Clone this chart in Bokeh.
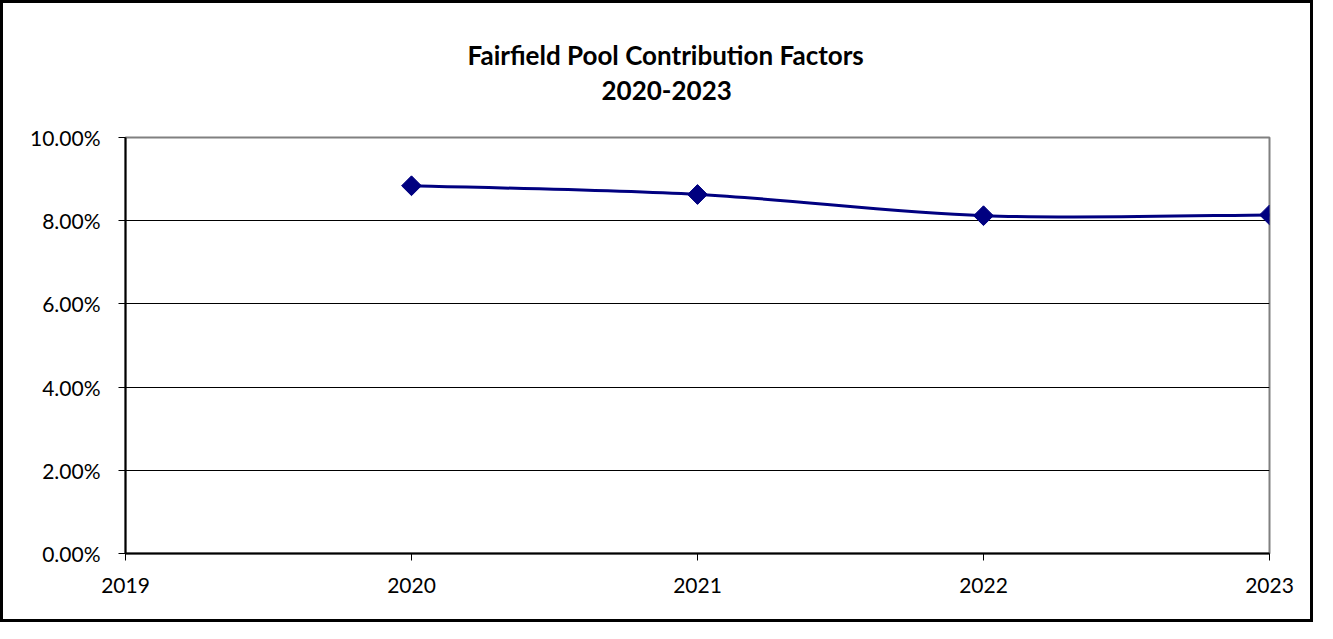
from bokeh.plotting import figure
from bokeh.models import Title, FixedTicker, NumeralTickFormatter, Range1d, ColumnDataSource
from bokeh.embed import file_html
from bokeh.resources import INLINE
import math

# ---- data ----
years = [2020, 2021, 2022, 2023]
factors = [0.0884, 0.0863, 0.0812, 0.0814]
x_ticks = [2019, 2020, 2021, 2022, 2023]
y_ticks = [0.0, 0.02, 0.04, 0.06, 0.08, 0.10]
title_lines = ["Fairfield Pool Contribution Factors", "2020-2023"]

NAVY = "#000080"
FONT = "Lato"

p = figure(width=1313, height=622, output_backend="svg", toolbar_location=None,
           x_range=Range1d(2019, 2023), y_range=Range1d(0, 0.10),
           min_border_left=122, min_border_right=47, min_border_top=134, min_border_bottom=72)
p.styles = {"border": "3px solid black"}

p.outline_line_color = "#808080"
p.outline_line_width = 2

# grid
p.xgrid.visible = False
p.ygrid.ticker = FixedTicker(ticks=y_ticks)
p.ygrid.grid_line_color = "black"
p.ygrid.grid_line_width = 1

# axes
p.xaxis.ticker = FixedTicker(ticks=x_ticks)
p.yaxis.ticker = FixedTicker(ticks=y_ticks)
p.yaxis.formatter = NumeralTickFormatter(format="0.00%")
for ax in (p.xaxis[0], p.yaxis[0]):
    ax.axis_line_color = "black"
    ax.axis_line_width = 2
    ax.major_tick_line_color = "black"
    ax.major_tick_line_width = 1
    ax.major_tick_in = 0
    ax.major_tick_out = 7
    ax.minor_tick_line_color = None
    ax.major_label_text_font = FONT
    ax.major_label_text_font_size = "21px"
    ax.major_label_text_color = "black"
p.yaxis.major_label_standoff = 18
p.xaxis.major_label_standoff = 17

# smooth line via Catmull-Rom Bezier segments
n = len(years)
pts = list(zip(years, factors))
x0s, y0s, x1s, y1s, cx0s, cy0s, cx1s, cy1s = [], [], [], [], [], [], [], []
for i in range(n - 1):
    pm = pts[max(i - 1, 0)]
    p0 = pts[i]
    p1 = pts[i + 1]
    pp = pts[min(i + 2, n - 1)]
    x0s.append(p0[0]); y0s.append(p0[1])
    x1s.append(p1[0]); y1s.append(p1[1])
    cx0s.append(p0[0] + (p1[0] - pm[0]) / 6); cy0s.append(p0[1] + (p1[1] - pm[1]) / 6)
    cx1s.append(p1[0] - (pp[0] - p0[0]) / 6); cy1s.append(p1[1] - (pp[1] - p0[1]) / 6)
bsrc = ColumnDataSource(dict(x0=x0s, y0=y0s, x1=x1s, y1=y1s, cx0=cx0s, cy0=cy0s, cx1=cx1s, cy1=cy1s))
p.bezier(x0="x0", y0="y0", x1="x1", y1="y1", cx0="cx0", cy0="cy0", cx1="cx1", cy1="cy1",
         source=bsrc, line_color=NAVY, line_width=3)

p.scatter(years, factors, marker="square", size=14, angle=math.pi / 4,
          fill_color=NAVY, line_color=NAVY)

# titles: nearest-to-frame first
TSIZE = 26
p.add_layout(Title(text=title_lines[1], align="left", offset=540 - 64, standoff=76,
                   vertical_align="bottom", text_font=FONT, text_font_style="bold",
                   text_font_size=f"{TSIZE}px", text_color="black"), "above")
p.add_layout(Title(text=title_lines[0], align="left", offset=540 - 198, standoff=-60,
                   vertical_align="bottom", text_font=FONT, text_font_style="bold",
                   text_font_size=f"{TSIZE}px", text_color="black"), "above")

open("out.html", "w").write(file_html(p, INLINE))
